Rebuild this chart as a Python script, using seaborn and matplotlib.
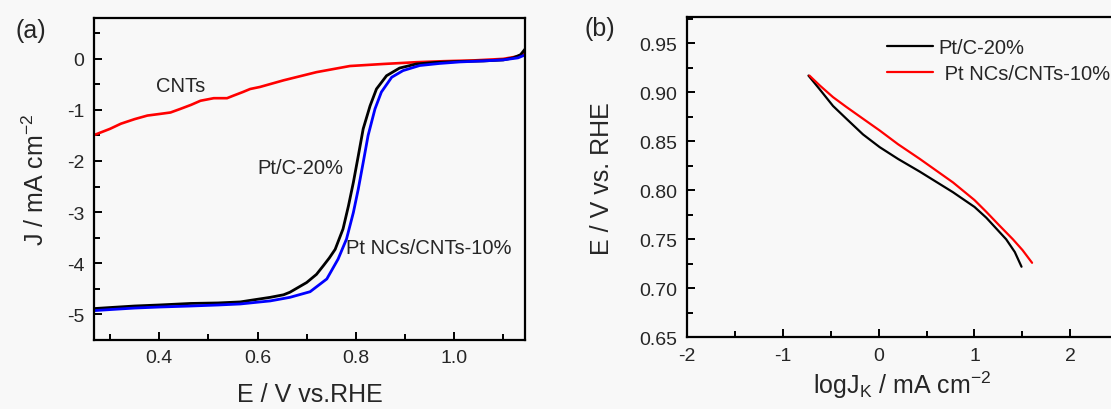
import numpy as np
import pandas as pd
import matplotlib
matplotlib.use("Agg")
import matplotlib.pyplot as plt
import seaborn as sns
from matplotlib.ticker import MultipleLocator

# ---------------- data: panel (a) LSV curves ----------------
cnt_E = [0.268, 0.30, 0.322, 0.35, 0.376, 0.40, 0.423, 0.443, 0.465, 0.484, 0.511, 0.538,
         0.551, 0.57, 0.585, 0.605, 0.653, 0.72, 0.788, 0.856, 0.923, 0.98, 1.04, 1.10,
         1.13, 1.145]
cnt_J = [-1.49, -1.37, -1.27, -1.18, -1.11, -1.08, -1.05, -0.98, -0.90, -0.82, -0.77, -0.77,
         -0.72, -0.65, -0.59, -0.55, -0.42, -0.26, -0.14, -0.10, -0.065, -0.045, -0.03, 0.0,
         0.05, 0.13]

ptc_E = [0.268, 0.30, 0.35, 0.40, 0.464, 0.52, 0.565, 0.585, 0.626, 0.653, 0.666, 0.70,
         0.72, 0.734, 0.746, 0.758, 0.774, 0.785, 0.795, 0.805, 0.815, 0.829, 0.842, 0.8625,
         0.889, 0.923, 0.96, 1.011, 1.06, 1.10, 1.12, 1.135, 1.145]
ptc_J = [-4.89, -4.87, -4.84, -4.82, -4.79, -4.78, -4.76, -4.73, -4.67, -4.62, -4.57, -4.38,
         -4.22, -4.05, -3.90, -3.73, -3.33, -2.88, -2.42, -1.90, -1.37, -0.92, -0.59, -0.33,
         -0.18, -0.10, -0.07, -0.05, -0.04, -0.02, 0.02, 0.08, 0.20]

ptnc_E = [0.268, 0.30, 0.35, 0.40, 0.464, 0.52, 0.565, 0.585, 0.626, 0.666, 0.707, 0.741,
          0.764, 0.781, 0.795, 0.805, 0.815, 0.825, 0.839, 0.852, 0.873, 0.896, 0.930, 0.97,
          1.011, 1.06, 1.10, 1.13, 1.145]
ptnc_J = [-4.93, -4.91, -4.88, -4.86, -4.84, -4.82, -4.80, -4.78, -4.74, -4.67, -4.56, -4.31,
          -3.92, -3.53, -3.01, -2.55, -2.03, -1.50, -0.98, -0.65, -0.36, -0.23, -0.13, -0.09,
          -0.06, -0.04, -0.02, 0.02, 0.08]

# ---------------- data: panel (b) Tafel curves ----------------
tafel_ptc_x = [-0.73, -0.613, -0.474, -0.335, -0.162, 0.012, 0.203, 0.43, 0.776, 1.0,
               1.123, 1.33, 1.42, 1.49]
tafel_ptc_y = [0.917, 0.903, 0.886, 0.873, 0.857, 0.844, 0.832, 0.819, 0.798, 0.783,
               0.772, 0.750, 0.737, 0.722]
tafel_ptnc_x = [-0.72, -0.613, -0.474, -0.335, -0.162, 0.012, 0.203, 0.43, 0.776, 1.0,
                1.123, 1.26, 1.40, 1.50, 1.60]
tafel_ptnc_y = [0.917, 0.907, 0.895, 0.885, 0.873, 0.861, 0.847, 0.832, 0.808, 0.790,
                0.778, 0.764, 0.750, 0.739, 0.726]

legend_labels = ["Pt/C-20%", " Pt NCs/CNTs-10%"]

# ---------------- style ----------------
sns.set_style("ticks")
plt.rcParams['font.family'] = ['Liberation Sans', 'DejaVu Sans']
plt.rcParams['mathtext.fontset'] = 'custom'
plt.rcParams['mathtext.rm'] = 'Liberation Sans'
plt.rcParams['mathtext.it'] = 'Liberation Sans'
bg = '#f8f8f8'

fig = plt.figure(figsize=(11.11, 4.10), dpi=100, facecolor=bg)
axA = fig.add_axes([0.0849, 0.169, 0.388, 0.7846])
axB = fig.add_axes([0.618, 0.1749, 0.3887, 0.7805])

for ax in (axA, axB):
    ax.set_facecolor(bg)
    for s in ax.spines.values():
        s.set_linewidth(1.6)
        s.set_color('black')
    ax.tick_params(which='both', direction='in', top=False, right=False,
                   labelsize=14, width=1.4, color='black', pad=7)
    ax.tick_params(which='major', length=6)
    ax.tick_params(which='minor', length=4)

# panel (a)
sns.lineplot(x=cnt_E, y=cnt_J, ax=axA, color='#ff0000', lw=1.9, estimator=None)
sns.lineplot(x=ptc_E, y=ptc_J, ax=axA, color='black', lw=2.0, estimator=None)
sns.lineplot(x=ptnc_E, y=ptnc_J, ax=axA, color='#0000ff', lw=2.0, estimator=None)
axA.set_xlim(0.268, 1.145)
axA.set_ylim(-5.5, 0.8)
axA.xaxis.set_minor_locator(MultipleLocator(0.1))
axA.yaxis.set_minor_locator(MultipleLocator(0.5))
axA.set_xticks([0.4, 0.6, 0.8, 1.0])
axA.set_xticklabels(['0.4', '0.6', '0.8', '1.0'])
axA.set_yticks([0, -1, -2, -3, -4, -5])
axA.set_yticklabels(['0', '-1', '-2', '-3', '-4', '-5'])
axA.set_xlabel('E / V vs.RHE', fontsize=18, labelpad=11)
axA.set_ylabel('J / mA cm$^{-2}$', fontsize=18, labelpad=13)
axA.text(0.443, -0.53, 'CNTs', fontsize=14.5, ha='center', va='center')
axA.text(0.687, -2.12, 'Pt/C-20%', fontsize=14.5, ha='center', va='center')
axA.text(0.948, -3.69, 'Pt NCs/CNTs-10%', fontsize=14.5, ha='center', va='center')
fig.text(0.028, 0.924, '(a)', fontsize=18, ha='center', va='center')

# panel (b)
sns.lineplot(x=tafel_ptc_x, y=tafel_ptc_y, ax=axB, color='black', lw=1.6,
             estimator=None, label=legend_labels[0])
sns.lineplot(x=tafel_ptnc_x, y=tafel_ptnc_y, ax=axB, color='#ff0000', lw=1.6,
             estimator=None, label=legend_labels[1])
axB.set_xlim(-2, 2.5)
axB.set_ylim(0.65, 0.9765)
axB.xaxis.set_minor_locator(MultipleLocator(0.5))
axB.yaxis.set_minor_locator(MultipleLocator(0.025))
axB.set_xticks([-2, -1, 0, 1, 2])
axB.set_xticklabels(['-2', '-1', '0', '1', '2'])
axB.set_yticks([0.65, 0.70, 0.75, 0.80, 0.85, 0.90, 0.95])
axB.set_yticklabels(['0.65', '0.70', '0.75', '0.80', '0.85', '0.90', '0.95'])
axB.set_xlabel('logJ$_{\\mathrm{K}}$ / mA cm$^{-2}$', fontsize=18, labelpad=3)
axB.set_ylabel('E / V vs. RHE', fontsize=18, labelpad=18)
leg = axB.legend(loc='upper left', bbox_to_anchor=(0.4637, 0.935), frameon=False,
                 fontsize=14.5, handlelength=2.3, handletextpad=0.27,
                 labelspacing=0.35, borderaxespad=0, borderpad=0)
fig.text(0.540, 0.929, '(b)', fontsize=18, ha='center', va='center')

fig.savefig('out.png', dpi=100, facecolor=bg)
